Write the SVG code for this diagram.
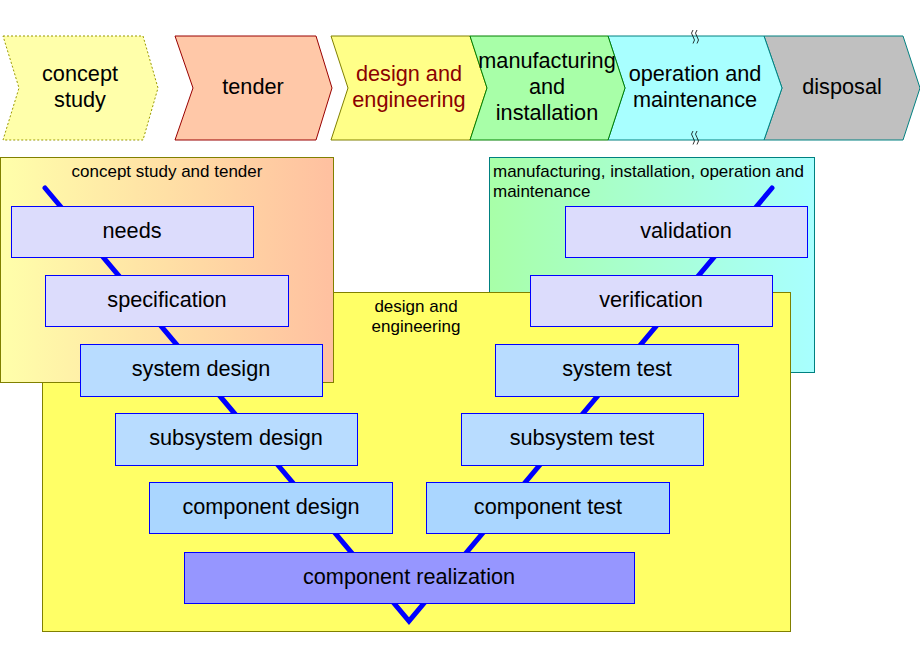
<svg xmlns="http://www.w3.org/2000/svg" width="920" height="660" viewBox="0 0 920 660">
<defs>
<linearGradient id="gCT" x1="0" y1="0" x2="1" y2="0">
<stop offset="0" stop-color="#ffffaa"/>
<stop offset="1" stop-color="#ffc0a0"/>
</linearGradient>
<linearGradient id="gMO" x1="0" y1="0" x2="1" y2="0">
<stop offset="0" stop-color="#a8ffa8"/>
<stop offset="1" stop-color="#a8ffff"/>
</linearGradient>
</defs>
<style>
text{font-family:"Liberation Sans",Arial,sans-serif;fill:#000}
.big{font-size:21.7px;text-anchor:middle}
.small{font-size:17px}
.box{stroke:#0000ff;stroke-width:1}
.lav{fill:#dcdcfc}
.lb{fill:#b8dcff}
.lb2{fill:#aad6ff}
.real{fill:#9696ff}
.sq{fill:none;stroke:#000;stroke-width:0.8}
</style>

<g id="phase-concept-study">
<polygon points="3,36 143,36 158,88 143,140 3,140 19,88" fill="#ffffaa" stroke="#999900" stroke-width="1" stroke-dasharray="2,2"/>
<text class="big" x="80" y="81">concept</text>
<text class="big" x="80" y="107">study</text>
</g>
<g id="phase-tender">
<polygon points="175,36 316,36 332,88 316,140 175,140 193,88" fill="#ffc8a8" stroke="#990000" stroke-width="1"/>
<text class="big" x="253" y="94">tender</text>
</g>
<g id="phase-design">
<polygon points="331,36 470,36 487,88 470,140 331,140 348,88" fill="#ffff88" stroke="#808000" stroke-width="1"/>
<text class="big" x="409" y="81" style="fill:#8b0000">design and</text>
<text class="big" x="409" y="107" style="fill:#8b0000">engineering</text>
</g>
<g id="phase-disposal">
<polygon points="764,36 903,36 920,88 903,140 764,140 782,88" fill="#c0c0c0" stroke="#008080" stroke-width="1"/>
<text class="big" x="842" y="94">disposal</text>
</g>
<g id="phase-operation">
<polygon points="608,36 764,36 782,88 764,140 608,140 625,88" fill="#a8ffff" stroke="#008080" stroke-width="1"/>
<text class="big" x="695" y="81">operation and</text>
<text class="big" x="695" y="107">maintenance</text>
<path class="sq" d="M693,30 q-3,3 0,6.5 q3,3.5 0,7"/>
<path class="sq" d="M697,30 q-3,3 0,6.5 q3,3.5 0,7"/>
<path class="sq" d="M693,131 q-3,3 0,6.5 q3,3.5 0,7"/>
<path class="sq" d="M697,131 q-3,3 0,6.5 q3,3.5 0,7"/>
</g>
<g id="phase-manufacturing">
<polygon points="470,36 608,36 625,88 608,140 470,140 487,88" fill="#a8ffa8" stroke="#008000" stroke-width="1"/>
<text class="big" x="547" y="68">manufacturing</text>
<text class="big" x="547" y="94">and</text>
<text class="big" x="547" y="120">installation</text>
</g>

<g id="panel-manufacturing-operation">
<rect x="489.5" y="157.5" width="325" height="215" fill="url(#gMO)" stroke="#008080"/>
<text class="small" x="493" y="177">manufacturing, installation, operation and</text>
<text class="small" x="493" y="197">maintenance</text>
</g>
<g id="panel-design-engineering">
<rect x="42.5" y="292.5" width="748" height="339" fill="#ffff66" stroke="#808000"/>
<text class="small" x="416" y="312" text-anchor="middle">design and</text>
<text class="small" x="416" y="332" text-anchor="middle">engineering</text>
</g>
<g id="panel-concept-tender">
<rect x="0.5" y="157.5" width="333" height="225" fill="url(#gCT)" stroke="#808000"/>
<text class="small" x="167" y="177" text-anchor="middle">concept study and tender</text>
</g>

<g id="connectors">
<polyline points="45,188 409,621 772,188" fill="none" stroke="#0000ff" stroke-width="5" stroke-linecap="round" stroke-linejoin="miter"/>
</g>

<g id="needs">
<rect class="box lav" x="11.5" y="206.5" width="242" height="51"/>
<text class="big" x="132" y="238">needs</text>
</g>
<g id="specification">
<rect class="box lav" x="45.5" y="275.5" width="243" height="51"/>
<text class="big" x="167" y="307">specification</text>
</g>
<g id="system-design">
<rect class="box lb" x="80.5" y="344.5" width="242" height="52"/>
<text class="big" x="201" y="376">system design</text>
</g>
<g id="subsystem-design">
<rect class="box lb" x="115.5" y="413.5" width="242" height="52"/>
<text class="big" x="236" y="445">subsystem design</text>
</g>
<g id="component-design">
<rect class="box lb2" x="149.5" y="482.5" width="243" height="51"/>
<text class="big" x="271" y="514">component design</text>
</g>
<g id="component-realization">
<rect class="box real" x="184.5" y="552.5" width="450" height="51"/>
<text class="big" x="409" y="584">component realization</text>
</g>
<g id="component-test">
<rect class="box lb2" x="426.5" y="482.5" width="243" height="51"/>
<text class="big" x="548" y="514">component test</text>
</g>
<g id="subsystem-test">
<rect class="box lb" x="461.5" y="413.5" width="242" height="52"/>
<text class="big" x="582" y="445">subsystem test</text>
</g>
<g id="system-test">
<rect class="box lb" x="495.5" y="344.5" width="243" height="52"/>
<text class="big" x="617" y="376">system test</text>
</g>
<g id="verification">
<rect class="box lav" x="530.5" y="275.5" width="242" height="51"/>
<text class="big" x="651" y="307">verification</text>
</g>
<g id="validation">
<rect class="box lav" x="565.5" y="206.5" width="242" height="51"/>
<text class="big" x="686" y="238">validation</text>
</g>
</svg>
